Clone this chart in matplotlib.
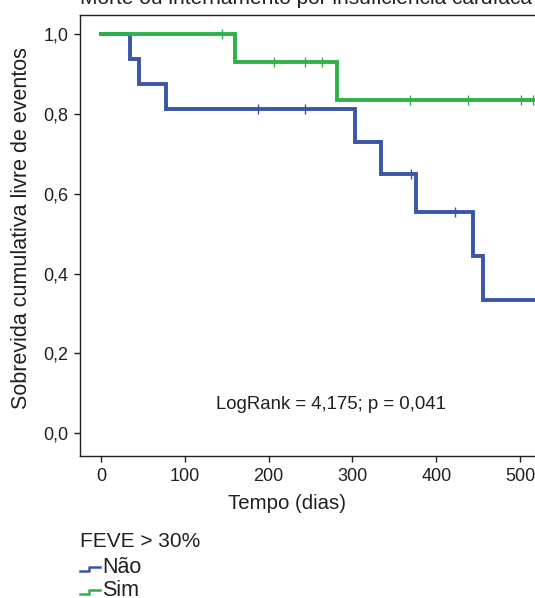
import numpy as np
import matplotlib
matplotlib.use("Agg")
import matplotlib.pyplot as plt
from matplotlib.lines import Line2D

plt.rcParams["font.family"] = ["Liberation Sans", "DejaVu Sans"]
txt_color = "#231f20"

# Kaplan-Meier curves
nao_times = [0, 35, 45, 78, 303, 334, 376, 444, 456, 600]
nao_surv = [1.0, 0.9375, 0.875, 0.8125, 0.73, 0.649, 0.555, 0.445, 0.334, 0.334]
nao_censor = [187, 243, 370, 422]

sim_times = [0, 160, 281, 600]
sim_surv = [1.0, 0.929, 0.835, 0.835]
sim_censor = [144, 206, 243, 264, 369, 438, 501, 515]

xticks = [0, 100, 200, 300, 400, 500]
yticks = [0.0, 0.2, 0.4, 0.6, 0.8, 1.0]
ytick_labels = ["0,0", "0,2", "0,4", "0,6", "0,8", "1,0"]

blue = "#3a55a6"
green = "#2db24a"

W, H = 535, 598
fig = plt.figure(figsize=(W / 100, H / 100), dpi=100)
# axes run past the right edge, as in the cropped original
ax = fig.add_axes([80 / W, (H - 456) / H, 524 / W, 441 / H])


def censor_y(times, surv, cens):
    idx = np.searchsorted(times, cens, side="right") - 1
    return np.array(surv)[idx]


for t, s, c, col in [(nao_times, nao_surv, nao_censor, blue),
                     (sim_times, sim_surv, sim_censor, green)]:
    ax.step(t, s, where="post", color=col, lw=2.8, solid_joinstyle="miter")
    ax.plot(c, censor_y(t, s, c), ls="none", marker="|", ms=6.5, mew=1.0, color=col)

ax.set_xlim(-25, 600)
ax.set_ylim(-0.057, 1.048)
ax.set_xticks(xticks)
ax.set_yticks(yticks)
ax.set_yticklabels(ytick_labels)
ax.tick_params(direction="out", length=4.5, width=1, labelsize=13,
               colors=txt_color, pad=4)
for sp in ax.spines.values():
    sp.set_linewidth(1)
    sp.set_color(txt_color)

ax.set_xlabel("Tempo (dias)", fontsize=14.7, color=txt_color)
ax.xaxis.label.set_va("baseline")
ax.xaxis.set_label_coords(207 / 524, -0.120)
ax.set_ylabel("Sobrevida cumulativa livre de eventos", fontsize=15.5,
              color=txt_color)
ax.yaxis.set_label_coords(-0.091, 0.517)

ax.text(274.5, 0.071, "LogRank = 4,175; p = 0,041", ha="center", va="center",
        fontsize=13.4, color=txt_color)

fig.text(80 / W, 1 - 4 / H, "Morte ou internamento por insuficiência cardíaca",
         fontsize=15, color=txt_color, va="baseline", ha="left")

# legend
fig.text(80 / W, 1 - 547 / H, "FEVE > 30%", fontsize=15, color=txt_color, va="baseline")
for lab, col, yb in [("Não", blue, 573), ("Sim", green, 596)]:
    ylo = 1 - (yb - 2) / H
    yhi = 1 - (yb - 6) / H
    xs = np.array([80, 89, 89, 100]) / W
    fig.add_artist(Line2D(xs, [ylo, ylo, yhi, yhi], color=col, lw=1.8,
                          transform=fig.transFigure))
    fig.text(102 / W, 1 - yb / H, lab, fontsize=15.5, color=txt_color, va="baseline")

fig.savefig("out.png", dpi=100)
